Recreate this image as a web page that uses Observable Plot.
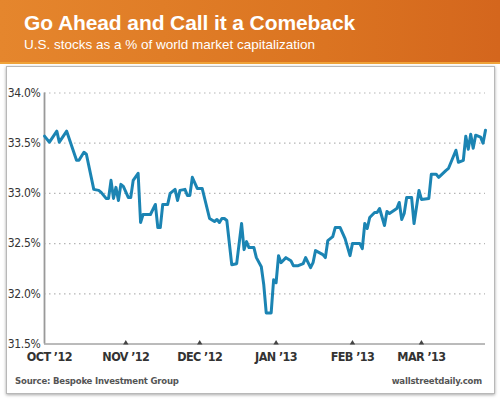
<!DOCTYPE html>
<html>
<head>
<meta charset="utf-8">
<script src="https://cdn.jsdelivr.net/npm/d3@7"></script>
<script src="https://cdn.jsdelivr.net/npm/@observablehq/plot@0.6"></script>
<style>
  html, body { margin: 0; padding: 0; background: #ffffff; }
  #page { position: relative; width: 500px; height: 400px; overflow: hidden; background: #ffffff; }
  #header {
    position: absolute; left: 0; top: 0; width: 500px; height: 62px;
    background: linear-gradient(to right, #e5862d, #db7421 65%, #d4661d);
    border-bottom: 2px solid #efa33a;
  }
  #title {
    position: absolute; left: 24px; top: 11px; color: #fff;
    font-family: "Liberation Sans", Arial, sans-serif; font-weight: bold; font-size: 21px; letter-spacing: -0.1px;
  }
  #subtitle {
    position: absolute; left: 24px; top: 37px; color: #fff;
    font-family: "Liberation Sans", Arial, sans-serif; font-size: 13.5px;
  }
  #panel {
    position: absolute; left: 6px; top: 66px; width: 487px; height: 326px;
    background: #fff; border: 1px solid #b8b8b8; box-shadow: 0 1px 3px rgba(0,0,0,0.35);
  }
  #chart { position: absolute; left: 0; top: 64px; }
  #chart g[aria-label="x-axis tick label"] text { letter-spacing: -0.6px; }
  #chart g[aria-label="y-axis tick label"] text { letter-spacing: -0.3px; }
  .foot {
    position: absolute; top: 375px; color: #555;
    font-family: "Liberation Sans Narrow", "DejaVu Sans Condensed", sans-serif; font-stretch: condensed;
    font-weight: bold; font-size: 9.5px; letter-spacing: -0.2px;
  }
</style>
</head>
<body>
<div id="page">
  <div id="header">
    <div id="title">Go Ahead and Call it a Comeback</div>
    <div id="subtitle">U.S. stocks as a % of world market capitalization</div>
  </div>
  <div id="panel"></div>
  <div id="chart"></div>
  <div class="foot" style="left:15px;">Source: Bespoke Investment Group</div>
  <div class="foot" style="right:18px;">wallstreetdaily.com</div>
</div>
<script>
const dates = [
  "2012-09-29","2012-10-01","2012-10-04","2012-10-05","2012-10-08","2012-10-12","2012-10-13","2012-10-15","2012-10-16","2012-10-19",
  "2012-10-21","2012-10-22","2012-10-24","2012-10-25","2012-10-26","2012-10-27","2012-10-28","2012-10-29","2012-10-30","2012-10-31",
  "2012-11-02","2012-11-03","2012-11-04","2012-11-06","2012-11-07","2012-11-08","2012-11-11","2012-11-13","2012-11-14","2012-11-15",
  "2012-11-16","2012-11-18","2012-11-19","2012-11-21","2012-11-22","2012-11-23","2012-11-25","2012-11-26","2012-11-27","2012-11-28",
  "2012-11-30","2012-12-02","2012-12-05","2012-12-07","2012-12-08","2012-12-09","2012-12-10","2012-12-11","2012-12-12","2012-12-14",
  "2012-12-16","2012-12-18","2012-12-19","2012-12-20","2012-12-21","2012-12-23","2012-12-24","2012-12-26","2012-12-27","2012-12-28",
  "2012-12-30","2012-12-31","2013-01-01","2013-01-02","2013-01-03","2013-01-05","2013-01-07","2013-01-08","2013-01-10","2013-01-12",
  "2013-01-13","2013-01-15","2013-01-16","2013-01-17","2013-01-20","2013-01-21","2013-01-22","2013-01-24","2013-01-25","2013-01-27",
  "2013-01-29","2013-01-31","2013-02-01","2013-02-04","2013-02-05","2013-02-06","2013-02-07","2013-02-08","2013-02-10","2013-02-11",
  "2013-02-12","2013-02-14","2013-02-15","2013-02-16","2013-02-19","2013-02-20","2013-02-21","2013-02-22","2013-02-23","2013-02-25",
  "2013-02-26","2013-02-28","2013-03-01","2013-03-04","2013-03-05","2013-03-07","2013-03-08","2013-03-11","2013-03-12","2013-03-15",
  "2013-03-16","2013-03-18","2013-03-19","2013-03-20","2013-03-21","2013-03-22","2013-03-23","2013-03-25","2013-03-26","2013-03-27"
];
const values = [
  33.57,33.51,33.62,33.51,33.62,33.33,33.33,33.41,33.39,33.04,
  33.03,33.01,32.95,32.95,33.13,32.95,33.06,32.93,33.09,33.07,
  32.96,32.96,33.13,33.20,32.71,32.79,32.79,32.89,32.66,32.66,
  32.89,32.89,33.00,33.04,32.93,33.03,33.04,32.98,32.98,33.16,
  33.05,33.05,32.75,32.72,32.74,32.71,32.75,32.75,32.73,32.29,
  32.30,32.70,32.44,32.52,32.46,32.46,32.36,32.27,32.09,31.81,
  31.81,32.14,32.11,32.38,32.31,32.36,32.33,32.28,32.28,32.30,
  32.36,32.26,32.31,32.43,32.39,32.36,32.53,32.57,32.66,32.66,
  32.55,32.38,32.50,32.50,32.45,32.70,32.65,32.76,32.81,32.81,
  32.85,32.68,32.82,32.80,32.85,32.91,32.74,32.80,32.96,32.96,
  32.70,33.03,32.94,32.95,33.19,33.19,33.16,33.23,33.25,33.43,
  33.31,33.33,33.57,33.44,33.59,33.45,33.58,33.56,33.50,33.63
];
const yTicks = [31.5, 32.0, 32.5, 33.0, 33.5, 34.0];
const gridValues = [32.0, 32.5, 33.0, 33.5, 34.0];
const monthDates = ["2012-10-01","2012-11-01","2012-12-01","2013-01-01","2013-02-01","2013-03-01"];
const monthLabels = ["OCT \u201912","NOV \u201912","DEC \u201912","JAN \u201913","FEB \u201913","MAR \u201913"];
const tickMarkDates = ["2012-11-01","2012-12-01","2013-01-01","2013-02-01","2013-03-01"];

const data = dates.map((d, i) => ({date: new Date(d), value: values[i]}));
const monthTicks = monthDates.map(d => new Date(d));
const labelOf = new Map(monthTicks.map((d, i) => [+d, monthLabels[i]]));
const xStart = new Date("2012-09-29");
const xEnd = new Date("2013-03-27");

const chart = Plot.plot({
  width: 500,
  height: 310,
  marginLeft: 44,
  marginRight: 15,
  marginTop: 28.5,
  marginBottom: 30.5,
  style: {background: "transparent", overflow: "visible"},
  x: {type: "utc", domain: [xStart, xEnd]},
  y: {domain: [31.5, 34]},
  marks: [
    Plot.ruleY(gridValues, {stroke: "#b5b5b5", strokeDasharray: "1.5,3.5", strokeWidth: 1.2}),
    Plot.axisY(yTicks, {
      tickSize: 0, tickPadding: 4, label: null,
      tickFormat: d => d.toFixed(1) + "%",
      fontSize: 12, fill: "#333",
      fontFamily: "'Liberation Sans Narrow', 'DejaVu Sans Condensed', sans-serif"
    }),
    Plot.axisX(monthTicks, {
      tickSize: 0, tickPadding: 8, label: null,
      tickFormat: d => labelOf.get(+d),
      fontSize: 12.5, fontWeight: "bold", fill: "#333",
      fontFamily: "'Liberation Sans Narrow', 'DejaVu Sans Condensed', sans-serif"
    }),
    Plot.ruleY([31.5], {stroke: "#777", strokeWidth: 1}),
    Plot.ruleX([xStart], {stroke: "#999", strokeWidth: 1.8}),
    Plot.dot(tickMarkDates.map(d => new Date(d)), {x: d => d, frameAnchor: "bottom", symbol: "triangle", r: 2, fill: "#444", dy: -1}),
    Plot.line(data, {x: "date", y: "value", stroke: "#1b84b3", strokeWidth: 3, strokeLinejoin: "round", strokeLinecap: "round"})
  ]
});
document.getElementById("chart").appendChild(chart);
</script>
</body>
</html>
